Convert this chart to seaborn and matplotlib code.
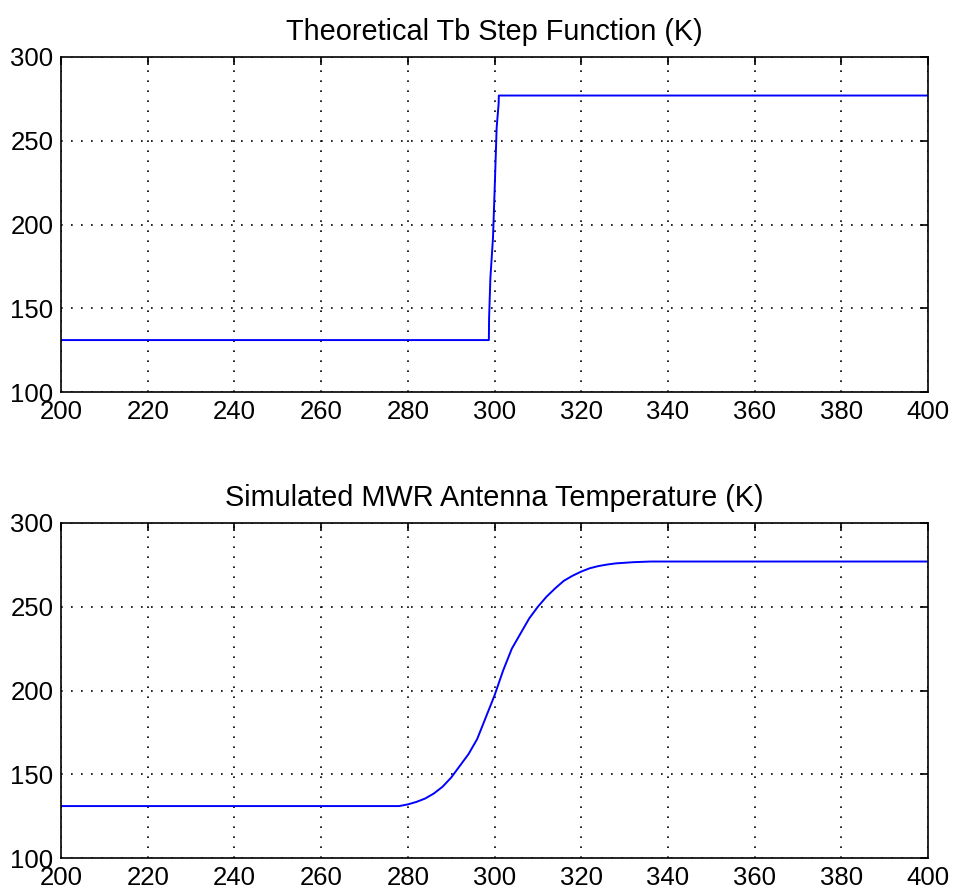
import matplotlib
matplotlib.use("Agg")
import matplotlib.pyplot as plt
import seaborn as sns
import pandas as pd

# Data
step_x = [200, 298.7, 298.75, 299.05, 299.65, 300.05, 300.5, 300.95, 301.0, 400]
step_y = [131, 131, 144, 168, 192, 222, 258, 272, 277, 277]

sim_x = [200, 278, 280, 282, 284, 286, 288, 290, 292, 294, 296, 298, 300, 302, 304, 306,
         308, 310, 312, 314, 316, 318, 320, 322, 324, 326, 328, 332, 336, 400]
sim_y = [131, 131, 132, 133.5, 135.5, 138.5, 142.5, 148, 155, 162, 171, 184, 197, 212,
         225, 234, 243, 250, 256, 261, 265.5, 268.5, 271, 273, 274.3, 275.2, 275.9, 276.6, 277, 277]

titles = ["Theoretical Tb Step Function (K)", "Simulated MWR Antenna Temperature (K)"]
x_ticks = list(range(200, 401, 20))
y_ticks = [100, 150, 200, 250, 300]

sns.set_style("white")
plt.rcParams['font.family'] = ['Liberation Sans', 'DejaVu Sans']
plt.rcParams['text.color'] = 'black'

fig = plt.figure(figsize=(9.54, 8.93), dpi=100)
W, H = 954, 893
left, right = 61, 928
panels = [(57, 392), (523, 858)]

datasets = [pd.DataFrame({"x": step_x, "y": step_y}),
            pd.DataFrame({"x": sim_x, "y": sim_y})]

for (top, bot), df, title in zip(panels, datasets, titles):
    ax = fig.add_axes([left / W, 1 - bot / H, (right - left) / W, (bot - top) / H])
    sns.lineplot(data=df, x="x", y="y", ax=ax, color=(0, 0, 1), linewidth=1.4,
                 sort=False, estimator=None)
    ax.set_xlim(200, 400)
    ax.set_ylim(100, 300)
    ax.set_xticks(x_ticks)
    ax.set_yticks(y_ticks)
    ax.set_xlabel("")
    ax.set_ylabel("")
    ax.set_title(title, fontsize=20.8, pad=12, color="black")
    ax.grid(True, color="black", linestyle=(0, (1, 5)), linewidth=1.2)
    ax.tick_params(direction="in", length=6, width=1.2, top=True, right=True,
                   labelsize=18.5, pad=6, colors="black")
    ax.tick_params(axis="y", pad=5.5)
    for s in ax.spines.values():
        s.set_visible(True)
        s.set_color("black")
        s.set_linewidth(1.2)

fig.savefig("out.png", dpi=100, facecolor="white")
